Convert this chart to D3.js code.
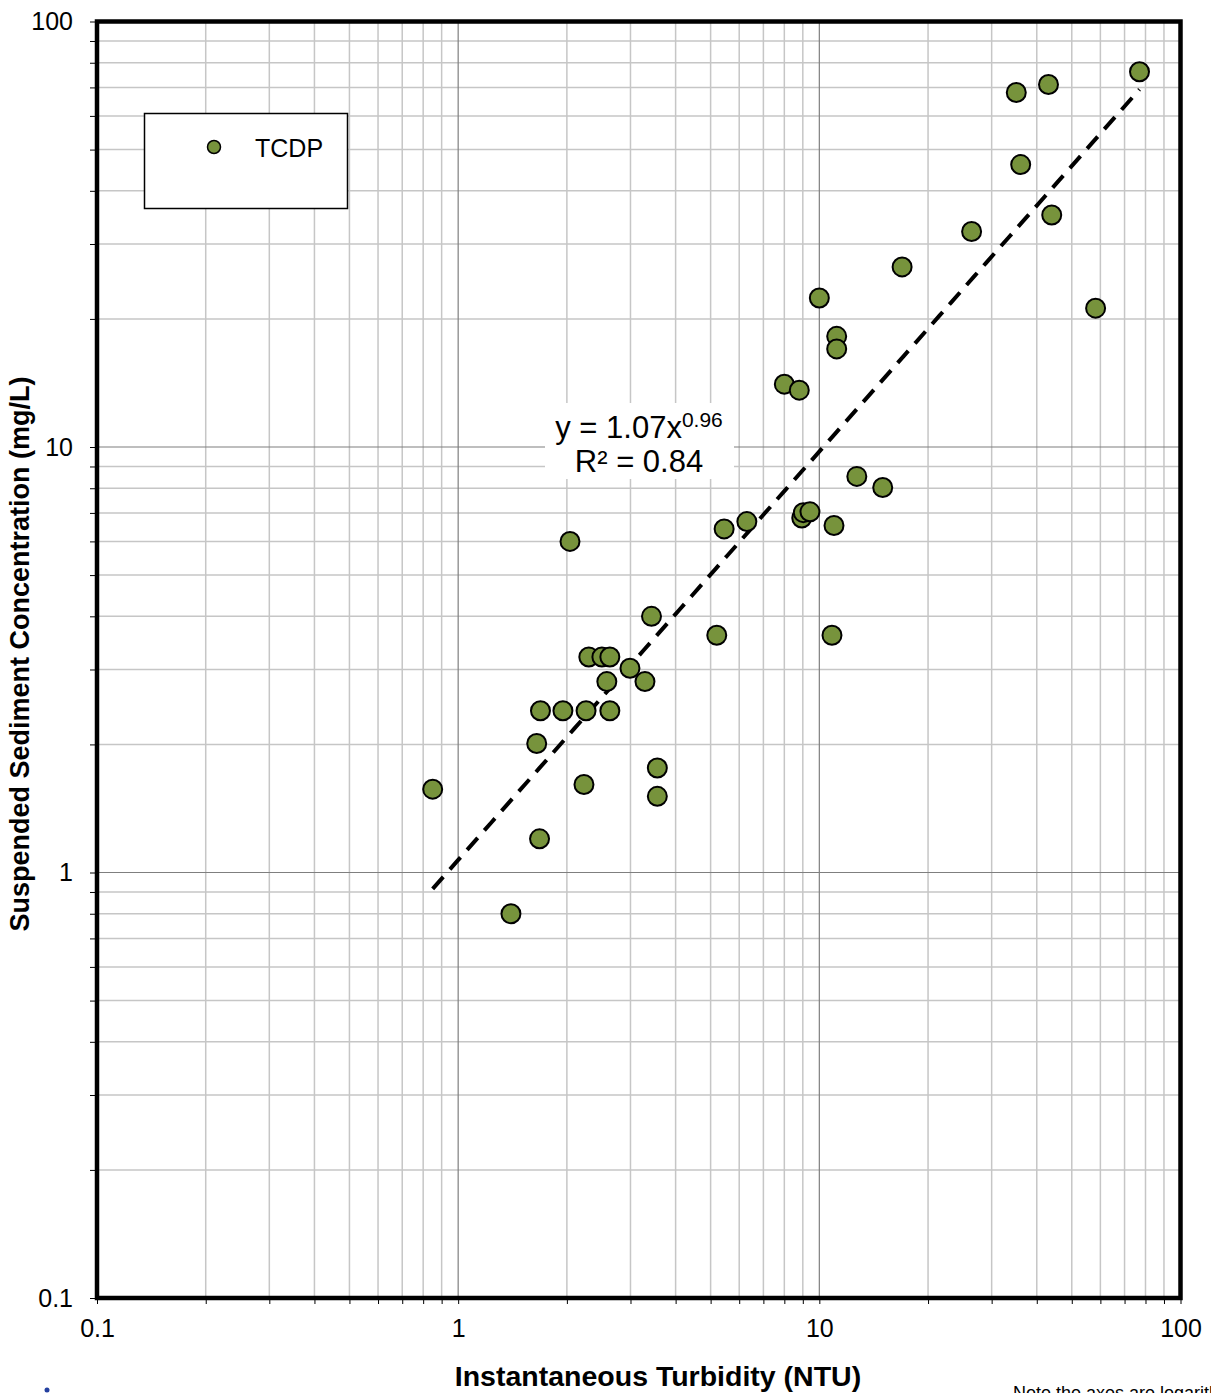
<!DOCTYPE html>
<html>
<head>
<meta charset="utf-8">
<script src="https://cdn.jsdelivr.net/npm/d3@7"></script>
<style>
  body { margin: 0; background: #fff; }
  svg { display: block; font-family: "Liberation Sans", Arial, sans-serif; }
</style>
</head>
<body>
<div id="body"></div>
<script>
// turbidity vs suspended sediment
let turbidity = [
  0.85, 1.40, 1.68, 1.65, 1.69, 1.95, 2.26, 2.63, 2.23, 2.04,
  2.30, 2.50, 2.63, 2.58, 2.99, 3.29, 3.43, 3.56, 3.56, 5.2,
  5.45, 6.3, 8.0, 8.8, 8.94, 9.03, 9.42, 10.0, 11.17, 11.17,
  10.98, 10.84, 12.7, 14.98, 16.95, 26.4, 35.1, 43.1, 36.1, 44.0,
  58.2, 77.0
];
let ssc = [
  1.57, 0.80, 1.20, 2.01, 2.40, 2.40, 2.40, 2.40, 1.61, 6.0,
  3.21, 3.21, 3.21, 2.81, 3.02, 2.81, 4.0, 1.76, 1.51, 3.61,
  6.42, 6.68, 14.05, 13.6, 6.81, 7.01, 7.04, 22.4, 18.2, 17.0,
  6.54, 3.61, 8.53, 8.03, 26.5, 32.1, 68.1, 71.1, 46.1, 35.1,
  21.2, 76.2
];
let seriesName = "TCDP";
let fitA = 1.07,
  fitB = 0.96;
let fitR2 = "0.84";
let decadeTicks = [0.1, 1, 10, 100];
let tickLabels = ["0.1", "1", "10", "100"];

let width = 1211,
  height = 1393;
let plotLeft = 97,
  plotRight = 1180.5,
  plotTop = 21.5,
  plotBottom = 1298;

let x = d3.scaleLog().domain([0.1, 100]).range([plotLeft, plotRight]);
let y = d3.scaleLog().domain([0.1, 100]).range([plotBottom, plotTop]);

// every 1..9 step inside each decade
let allTicks = [];
decadeTicks.slice(0, 3).forEach((d) => {
  for (let i = 1; i < 10; i++) allTicks.push(d * i);
});
allTicks.push(100);
let minorTicks = allTicks.filter((d) => decadeTicks.indexOf(d) < 0);

let svg = d3
  .select("#body")
  .append("svg")
  .attr("width", width)
  .attr("height", height);

// minor grid first, majors on top
svg
  .append("g")
  .selectAll("line")
  .data(minorTicks)
  .enter()
  .append("line")
  .attr("x1", (d) => x(d))
  .attr("x2", (d) => x(d))
  .attr("y1", plotTop)
  .attr("y2", plotBottom)
  .style("stroke", "#c6c6c6")
  .style("stroke-width", 1.5);

svg
  .append("g")
  .selectAll("line")
  .data(minorTicks)
  .enter()
  .append("line")
  .attr("y1", (d) => y(d))
  .attr("y2", (d) => y(d))
  .attr("x1", plotLeft)
  .attr("x2", plotRight)
  .style("stroke", "#c6c6c6")
  .style("stroke-width", 1.5);

svg
  .append("g")
  .selectAll("line")
  .data(decadeTicks)
  .enter()
  .append("line")
  .attr("x1", (d) => x(d))
  .attr("x2", (d) => x(d))
  .attr("y1", plotTop)
  .attr("y2", plotBottom)
  .style("stroke", "#7f7f7f")
  .style("stroke-width", 1.2);

svg
  .append("g")
  .selectAll("line")
  .data(decadeTicks)
  .enter()
  .append("line")
  .attr("y1", (d) => y(d))
  .attr("y2", (d) => y(d))
  .attr("x1", plotLeft)
  .attr("x2", plotRight)
  .style("stroke", "#7f7f7f")
  .style("stroke-width", 1.2);

// axes with outside ticks at every grid step
let xAxis = d3
  .axisBottom(x)
  .tickValues(allTicks)
  .tickSize(6)
  .tickFormat((d) => {
    let i = decadeTicks.indexOf(d);
    return i < 0 ? "" : tickLabels[i];
  });
let yAxis = d3
  .axisLeft(y)
  .tickValues(allTicks)
  .tickSize(7)
  .tickFormat((d) => {
    let i = decadeTicks.indexOf(d);
    return i < 0 ? "" : tickLabels[i];
  });

let gx = svg
  .append("g")
  .attr("transform", "translate(0," + plotBottom + ")")
  .call(xAxis);
gx.select(".domain").remove();
gx.selectAll("line").style("stroke", "#000");
gx.selectAll("text")
  .attr("y", 21)
  .attr("dy", "0.71em")
  .style("font-size", "25px")
  .style("font-family", "Liberation Sans, Arial, sans-serif")
  .style("fill", "#000");

let gy = svg
  .append("g")
  .attr("transform", "translate(" + plotLeft + ",0)")
  .call(yAxis);
gy.select(".domain").remove();
gy.selectAll("line").style("stroke", "#000");
gy.selectAll("text")
  .attr("x", -24)
  .style("font-size", "25px")
  .style("font-family", "Liberation Sans, Arial, sans-serif")
  .style("fill", "#000");

// power trend line
let lo = Math.log10(d3.min(turbidity)),
  hi = Math.log10(d3.max(turbidity));
let fitX = d3.range(0, 61).map((i) => Math.pow(10, lo + ((hi - lo) * i) / 60));
let fitLine = d3
  .line()
  .x((d) => x(d))
  .y((d) => y(fitA * Math.pow(d, fitB)));
svg
  .append("path")
  .datum(fitX)
  .attr("d", fitLine)
  .style("fill", "none")
  .style("stroke", "#000")
  .style("stroke-width", 4)
  .style("stroke-dasharray", "16,10");

// points
let points = turbidity.map((d, i) => ({ t: d, s: ssc[i] }));
svg
  .append("g")
  .selectAll("circle")
  .data(points)
  .enter()
  .append("circle")
  .attr("cx", (d) => x(d.t))
  .attr("cy", (d) => y(d.s))
  .attr("r", 9.5)
  .style("fill", "#77933c")
  .style("stroke", "#000")
  .style("stroke-width", 2);

// equation label
let eq = svg.append("g");
eq.append("rect")
  .attr("x", 545)
  .attr("y", 403)
  .attr("width", 189)
  .attr("height", 76)
  .style("fill", "#fff");
let eqText = eq
  .append("text")
  .attr("x", 639)
  .attr("y", 438)
  .attr("text-anchor", "middle")
  .style("font-size", "31px");
eqText.append("tspan").text("y = " + fitA + "x");
eqText
  .append("tspan")
  .attr("dy", -11)
  .style("font-size", "21px")
  .text(fitB);
eq.append("text")
  .attr("x", 639)
  .attr("y", 472)
  .attr("text-anchor", "middle")
  .style("font-size", "31px")
  .text("R² = " + fitR2);

// frame
svg
  .append("rect")
  .attr("x", plotLeft)
  .attr("y", plotTop)
  .attr("width", plotRight - plotLeft)
  .attr("height", plotBottom - plotTop)
  .style("fill", "none")
  .style("stroke", "#000")
  .style("stroke-width", 4.5);

// legend
let legend = svg.append("g");
legend
  .append("rect")
  .attr("x", 144.5)
  .attr("y", 113.5)
  .attr("width", 203)
  .attr("height", 95)
  .style("fill", "#fff")
  .style("stroke", "#000")
  .style("stroke-width", 1.5);
legend
  .append("circle")
  .attr("cx", 214)
  .attr("cy", 147)
  .attr("r", 6.5)
  .style("fill", "#77933c")
  .style("stroke", "#000")
  .style("stroke-width", 1.5);
legend
  .append("text")
  .attr("x", 255)
  .attr("y", 157)
  .style("font-size", "25px")
  .text(seriesName);

// axis titles
svg
  .append("text")
  .attr("x", 658)
  .attr("y", 1386)
  .attr("text-anchor", "middle")
  .style("font-size", "28.5px")
  .style("font-weight", "bold")
  .text("Instantaneous Turbidity (NTU)");
svg
  .append("text")
  .attr("transform", "translate(29,654) rotate(-90)")
  .attr("text-anchor", "middle")
  .style("font-size", "27px")
  .style("font-weight", "bold")
  .text("Suspended Sediment Concentration (mg/L)");

// note running off the right edge, as in the source, and the scrap of logo bottom left
svg
  .append("text")
  .attr("x", 1013)
  .attr("y", 1399)
  .style("font-size", "18px")
  .text("Note the axes are logarithmic");
svg
  .append("circle")
  .attr("cx", 47)
  .attr("cy", 1390)
  .attr("r", 2.5)
  .style("fill", "#2440a0");
</script>
</body>
</html>
